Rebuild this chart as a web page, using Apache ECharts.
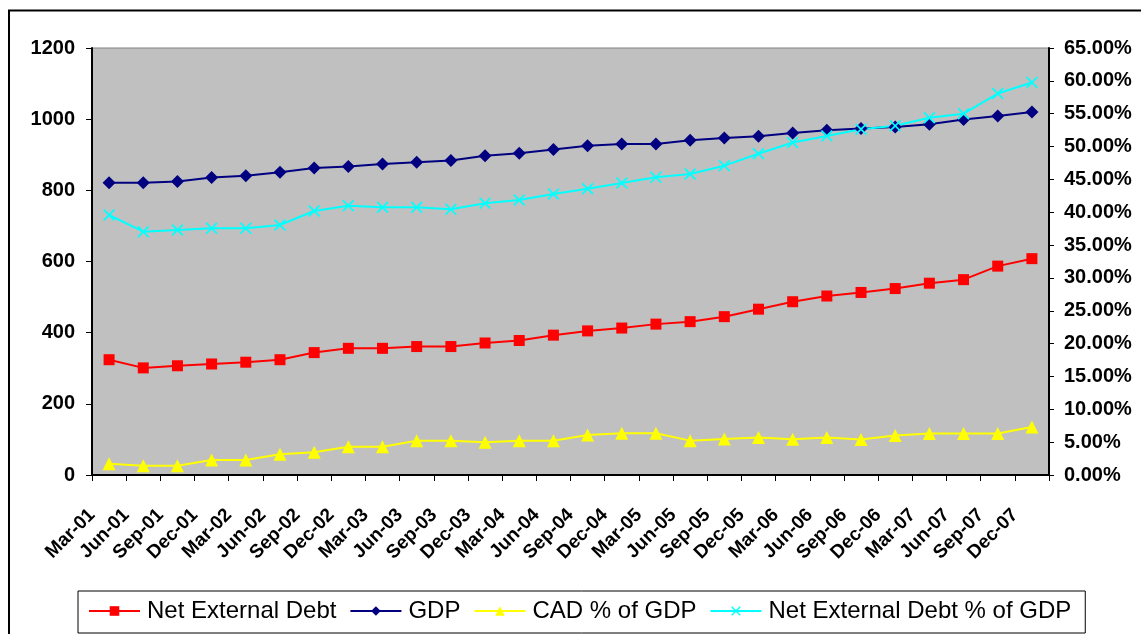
<!DOCTYPE html>
<html>
<head>
<meta charset="utf-8">
<title>Net External Debt vs GDP</title>
<script src="https://cdn.jsdelivr.net/npm/echarts@6/dist/echarts.min.js"></script>
<style>
  html, body { margin: 0; padding: 0; background: #fff; }
  #chart { width: 1141px; height: 634px; }
</style>
</head>
<body>
<div id="chart"></div>
<script>
// quarters, Mar-01 .. Dec-07
const categories = [
  'Mar-01', 'Jun-01', 'Sep-01', 'Dec-01', 'Mar-02', 'Jun-02', 'Sep-02', 'Dec-02',
  'Mar-03', 'Jun-03', 'Sep-03', 'Dec-03', 'Mar-04', 'Jun-04', 'Sep-04', 'Dec-04',
  'Mar-05', 'Jun-05', 'Sep-05', 'Dec-05', 'Mar-06', 'Jun-06', 'Sep-06', 'Dec-06',
  'Mar-07', 'Jun-07', 'Sep-07', 'Dec-07'
];
// left axis
const netExternalDebt = [324, 301, 307, 312, 317, 324, 344, 356, 356, 361, 361, 371, 378, 393,
  405, 413, 424, 431, 445, 466, 487, 503, 513, 524, 539, 549, 587, 608];
const gdp = [821, 821, 825, 836, 841, 851, 863, 867, 874, 879, 884, 897, 904, 915,
  925, 930, 930, 941, 947, 952, 961, 969, 974, 978, 986, 999, 1009, 1020];
// right axis (%)
const cadPctOfGdp = [1.72, 1.42, 1.42, 2.28, 2.28, 3.15, 3.45, 4.31, 4.31, 5.23, 5.23, 4.97, 5.23, 5.23,
  6.09, 6.34, 6.34, 5.23, 5.48, 5.72, 5.45, 5.71, 5.40, 6.01, 6.31, 6.31, 6.31, 7.32];
const nedPctOfGdp = [39.58, 37.04, 37.30, 37.55, 37.55, 38.06, 40.19, 41.0, 40.75, 40.75, 40.44, 41.36, 41.86, 42.78,
  43.58, 44.45, 45.31, 45.82, 47.09, 48.9, 50.61, 51.62, 52.64, 53.15, 54.39, 55.0, 58.07, 59.75];

const leftMin = 0, leftMax = 1200, leftStep = 200;
const rightMin = 0, rightMax = 65, rightStep = 5;

const font = 'Arial, "Liberation Sans", sans-serif';
// "x" marker drawn as a filled cross
const xShape = 'path://M0,1L1,0L5,4L9,0L10,1L6,5L10,9L9,10L5,6L1,10L0,9L4,5Z';

const chart = echarts.init(document.getElementById('chart'), null, { renderer: 'canvas' });

function lineSeries(name, data, color, symbol, size, yAxisIndex) {
  return {
    name, type: 'line', data, yAxisIndex,
    symbol, symbolSize: size,
    lineStyle: { color, width: 2 },
    itemStyle: { color },
    emphasis: { disabled: true },
    animation: false
  };
}

chart.setOption({
  animation: false,
  textStyle: { fontFamily: font },
  graphic: [{
    type: 'rect', silent: true,
    shape: { x: 9, y: 10.5, width: 1200, height: 700 },
    style: { fill: 'none', stroke: '#000', lineWidth: 2 }
  }],
  grid: {
    left: 92, right: 92, top: 48, bottom: 159,
    show: true, backgroundColor: '#C0C0C0', borderColor: '#808080', borderWidth: 1
  },
  legend: {
    left: 78, top: 591,
    padding: [8, 14, 10, 10],
    borderColor: '#000', borderWidth: 1,
    itemWidth: 51, itemHeight: 12, itemGap: 13,
    textStyle: { fontSize: 24, color: '#000', fontFamily: font, padding: [0, 0, 0, 2] },
    data: ['Net External Debt', 'GDP', 'CAD % of GDP', 'Net External Debt % of GDP']
  },
  xAxis: {
    type: 'category', data: categories, boundaryGap: true,
    axisLine: { lineStyle: { color: '#000', width: 2 } },
    axisTick: { show: true, length: 6, lineStyle: { color: '#000' } },
    axisLabel: {
      interval: 0, rotate: 45, margin: 20, padding: [0, 24, 0, 0],
      fontSize: 19, fontWeight: 'bold', color: '#000'
    },
    splitLine: { show: false }
  },
  yAxis: [{
    type: 'value', min: leftMin, max: leftMax, interval: leftStep,
    axisLine: { show: true, lineStyle: { color: '#000', width: 2 } },
    axisTick: { show: true, length: 6, lineStyle: { color: '#000' } },
    axisLabel: {
      margin: 17, fontSize: 20, fontWeight: 'bold', color: '#000',
      formatter: (v) => String(v)
    },
    splitLine: { show: false }
  }, {
    type: 'value', position: 'right', min: rightMin, max: rightMax, interval: rightStep,
    axisLine: { show: true, lineStyle: { color: '#000', width: 2 } },
    axisTick: { show: true, length: 5, lineStyle: { color: '#000' } },
    axisLabel: {
      margin: 15, fontSize: 20, fontWeight: 'bold', color: '#000',
      formatter: (v) => v.toFixed(2) + '%'
    },
    splitLine: { show: false }
  }],
  series: [
    lineSeries('Net External Debt', netExternalDebt, '#FF0000', 'rect', 11, 0),
    lineSeries('GDP', gdp, '#000080', 'diamond', 13, 0),
    lineSeries('CAD % of GDP', cadPctOfGdp, '#FFFF00', 'triangle', 13, 1),
    lineSeries('Net External Debt % of GDP', nedPctOfGdp, '#00FFFF', xShape, 12, 1)
  ]
});
</script>
</body>
</html>
